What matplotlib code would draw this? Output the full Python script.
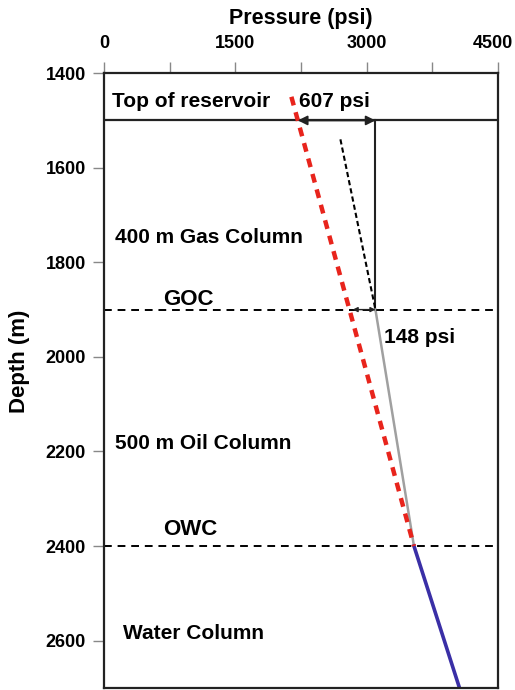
import numpy as np
import matplotlib.pyplot as plt
import matplotlib.transforms as mtransforms

plt.rcParams['font.family'] = ['Liberation Sans', 'DejaVu Sans']
plt.rcParams['font.weight'] = 'bold'

# depth levels (m)
top_res = 1500
goc = 1900
owc = 2400

# pressure profiles (psi vs depth m)
hydro_p = [2140, 3540]
hydro_d = [1450, 2400]

gas_p = [3100, 3100]
gas_d = [1500, 1900]

gas_grad_p = [2700, 3100]
gas_grad_d = [1540, 1900]

oil_p = [3100, 3540]
oil_d = [1900, 2400]

water_p = [3540, 4060]
water_d = [2400, 2700]

xticks = [0, 1500, 3000, 4500]
yticks = [1400, 1600, 1800, 2000, 2200, 2400, 2600]

fig = plt.figure(figsize=(5.15, 6.9), dpi=100)
ax = fig.add_axes([0.202, 0.003, 0.765, 0.891])

ax.plot(hydro_p, hydro_d, color='#e8241c', lw=3.2, ls=(0, (2.0, 1.6)), zorder=3)
ax.plot(gas_p, gas_d, color='#222222', lw=1.5)
ax.plot(gas_grad_p, gas_grad_d, color='black', lw=1.5, ls=(0, (2.5, 1.5)))
ax.plot(oil_p, oil_d, color='#a0a0a0', lw=1.8)
ax.plot(water_p, water_d, color='#3a2fa6', lw=2.6)

ax.axhline(top_res, color='#222222', lw=1.6)
ax.axhline(goc, color='black', lw=1.4, ls=(0, (4, 3)))
ax.axhline(owc, color='black', lw=1.4, ls=(0, (4, 3)))

# pressure differences
ax.annotate('', xy=(2214, top_res), xytext=(3100, top_res),
            arrowprops=dict(arrowstyle='<|-|>', color='#222222', lw=1.3,
                            mutation_scale=14, shrinkA=0, shrinkB=0))
ax.annotate('', xy=(2840, goc), xytext=(3100, goc),
            arrowprops=dict(arrowstyle='<|-|>', color='#222222', lw=1.0,
                            mutation_scale=7, shrinkA=0, shrinkB=0))

fs = 15
ax.text(90, 1461, 'Top of reservoir', fontsize=fs, fontweight='bold', va='center')
ax.text(2230, 1461, '607 psi', fontsize=fs, fontweight='bold', va='center')
ax.text(125, 1748, '400 m Gas Column', fontsize=fs, fontweight='bold', va='center')
ax.text(680, 1878, 'GOC', fontsize=16, fontweight='bold', va='center')
ax.text(3200, 1960, '148 psi', fontsize=fs, fontweight='bold', va='center')
ax.text(125, 2183, '500 m Oil Column', fontsize=fs, fontweight='bold', va='center')
ax.text(680, 2366, 'OWC', fontsize=16, fontweight='bold', va='center')
ax.text(215, 2584, 'Water Column', fontsize=fs, fontweight='bold', va='center')

ax.set_xlim(0, 4500)
ax.set_ylim(2700, 1400)
ax.xaxis.tick_top()
ax.xaxis.set_label_position('top')
ax.set_xticks(xticks)
ax.set_xticks([750, 2250, 3750], minor=True)
ax.set_yticks(yticks)
ax.tick_params(axis='both', which='both', direction='out', length=8, width=1,
               color='#888888', labelsize=13)
ax.tick_params(axis='y', pad=5)
ax.tick_params(axis='x', pad=7)
for lab in ax.get_xticklabels() + ax.get_yticklabels():
    lab.set_fontweight('bold')
# last top label sits a little left of its tick
last = ax.get_xticklabels()[-1]
last.set_transform(last.get_transform() + mtransforms.ScaledTranslation(-5 / 100, 0, fig.dpi_scale_trans))
for s in ax.spines.values():
    s.set_linewidth(1.6)
    s.set_color('#222222')

ax.set_xlabel('Pressure (psi)', fontsize=15.5, fontweight='bold', labelpad=8)
ax.set_ylabel('Depth (m)', fontsize=16, fontweight='bold')
ax.yaxis.set_label_coords(-0.187, 0.531)

fig.savefig('out.png', dpi=100)
